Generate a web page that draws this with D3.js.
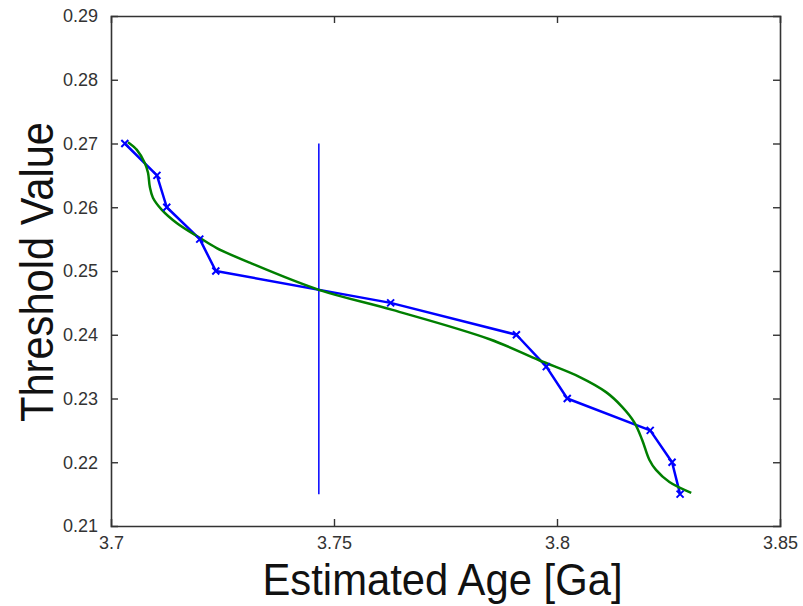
<!DOCTYPE html>
<html>
<head>
<meta charset="utf-8">
<script src="https://cdn.jsdelivr.net/npm/d3@7"></script>
<style>
  html, body { margin: 0; padding: 0; background: #fff; }
  svg { display: block; font-family: "Liberation Sans", Arial, sans-serif; }
</style>
</head>
<body>
<svg id="chart" width="803" height="606"></svg>
<script>
// ---- Data ----
const blueAge = [3.7031, 3.7103, 3.7125, 3.7199, 3.7235, 3.7627, 3.7909, 3.7976, 3.8023, 3.8209, 3.8258, 3.8276];
const blueThreshold = [0.270, 0.265, 0.260, 0.255, 0.250, 0.245, 0.240, 0.235, 0.230, 0.225, 0.220, 0.215];

const greenAge = [3.7038, 3.7058, 3.7076, 3.7083, 3.7087, 3.7094, 3.7114, 3.7148, 3.7199, 3.7237, 3.7311, 3.7468, 3.7631, 3.7849, 3.7960, 3.8050, 3.8110, 3.8146, 3.8173, 3.8191, 3.8207, 3.8222, 3.8252, 3.8301];
const greenThreshold = [0.2702, 0.2690, 0.2669, 0.2654, 0.2632, 0.2615, 0.2596, 0.2575, 0.2552, 0.2536, 0.2513, 0.2470, 0.2439, 0.2393, 0.2360, 0.2334, 0.2310, 0.2287, 0.2263, 0.2235, 0.2204, 0.2188, 0.2169, 0.2152];

const markerAge = [3.7466, 3.7466];
const markerThreshold = [0.270, 0.215];

const xTicks = [3.7, 3.75, 3.8, 3.85];
const xTickLabels = ["3.7", "3.75", "3.8", "3.85"];
const yTicks = [0.21, 0.22, 0.23, 0.24, 0.25, 0.26, 0.27, 0.28, 0.29];
const yTickLabels = ["0.21", "0.22", "0.23", "0.24", "0.25", "0.26", "0.27", "0.28", "0.29"];

const xLabel = "Estimated Age [Ga]";
const yLabel = "Threshold Value";

// ---- Layout ----
const mLeft = 111, mRight = 780, mTop = 16, mBottom = 526;
const svg = d3.select("#chart");

const x = d3.scaleLinear().domain([3.7, 3.85]).range([mLeft, mRight]);
const y = d3.scaleLinear().domain([0.21, 0.29]).range([mBottom, mTop]);

const axisColor = "#333";
const tickLen = 7;

const gBottom = svg.append("g").attr("transform", `translate(0,${mBottom})`)
  .call(d3.axisBottom(x).tickValues(xTicks).tickSize(-tickLen).tickPadding(10)
    .tickFormat((d, i) => xTickLabels[i]));
const gTop = svg.append("g").attr("transform", `translate(0,${mTop})`)
  .call(d3.axisTop(x).tickValues(xTicks).tickSize(-tickLen).tickFormat(""));
const gLeft = svg.append("g").attr("transform", `translate(${mLeft},0)`)
  .call(d3.axisLeft(y).tickValues(yTicks).tickSize(-tickLen).tickPadding(13)
    .tickFormat((d, i) => yTickLabels[i]));
const gRight = svg.append("g").attr("transform", `translate(${mRight},0)`)
  .call(d3.axisRight(y).tickValues(yTicks).tickSize(-tickLen).tickFormat(""));

[gBottom, gTop, gLeft, gRight].forEach(g => {
  g.select(".domain").attr("stroke", axisColor).attr("stroke-width", 1.6);
  g.selectAll(".tick line").attr("stroke", axisColor).attr("stroke-width", 1.4);
  g.selectAll(".tick text").attr("fill", "#333").attr("font-size", 18)
    .attr("font-family", "'Liberation Sans', Arial, sans-serif");
});
gBottom.selectAll(".tick line").filter(d => d === 3.7 || d === 3.85).remove();
gTop.selectAll(".tick line").filter(d => d === 3.7 || d === 3.85).remove();
gLeft.selectAll(".tick line").filter(d => d === 0.21 || d === 0.29).remove();
gRight.selectAll(".tick line").filter(d => d === 0.21 || d === 0.29).remove();

// ---- Series ----
const plot = svg.append("g");

plot.append("path")
  .datum(markerAge.map((a, i) => [a, markerThreshold[i]]))
  .attr("d", d3.line().x(d => x(d[0])).y(d => y(d[1])))
  .attr("fill", "none").attr("stroke", "#0000ff").attr("stroke-width", 1.5);

const blueData = blueAge.map((a, i) => [a, blueThreshold[i]]);
plot.append("path")
  .datum(blueData)
  .attr("d", d3.line().x(d => x(d[0])).y(d => y(d[1])))
  .attr("fill", "none").attr("stroke", "#0000ff").attr("stroke-width", 2.5)
  .attr("stroke-linejoin", "round");

const greenData = greenAge.map((a, i) => [a, greenThreshold[i]]);
plot.append("path")
  .datum(greenData)
  .attr("d", d3.line().x(d => x(d[0])).y(d => y(d[1])).curve(d3.curveCatmullRom.alpha(0.5)))
  .attr("fill", "none").attr("stroke", "#007f00").attr("stroke-width", 2.5)
  .attr("stroke-linejoin", "round");

const m = 3.5;
plot.selectAll(".mk").data(blueData).enter().append("path")
  .attr("class", "mk")
  .attr("d", d => {
    const cx = x(d[0]), cy = y(d[1]);
    return `M${cx - m},${cy - m}L${cx + m},${cy + m}M${cx - m},${cy + m}L${cx + m},${cy - m}`;
  })
  .attr("stroke", "#0000ff").attr("stroke-width", 2);

// ---- Axis labels ----
svg.append("text")
  .attr("x", (mLeft + mRight) / 2 - 3).attr("y", 595)
  .attr("text-anchor", "middle")
  .attr("font-size", 44).attr("fill", "#111")
  .attr("textLength", 360).attr("lengthAdjust", "spacingAndGlyphs")
  .text(xLabel);

svg.append("text")
  .attr("transform", `translate(53,${(mTop + mBottom) / 2 + 1}) rotate(-90)`)
  .attr("text-anchor", "middle")
  .attr("font-size", 46).attr("fill", "#111")
  .attr("textLength", 300).attr("lengthAdjust", "spacingAndGlyphs")
  .text(yLabel);
</script>
</body>
</html>
